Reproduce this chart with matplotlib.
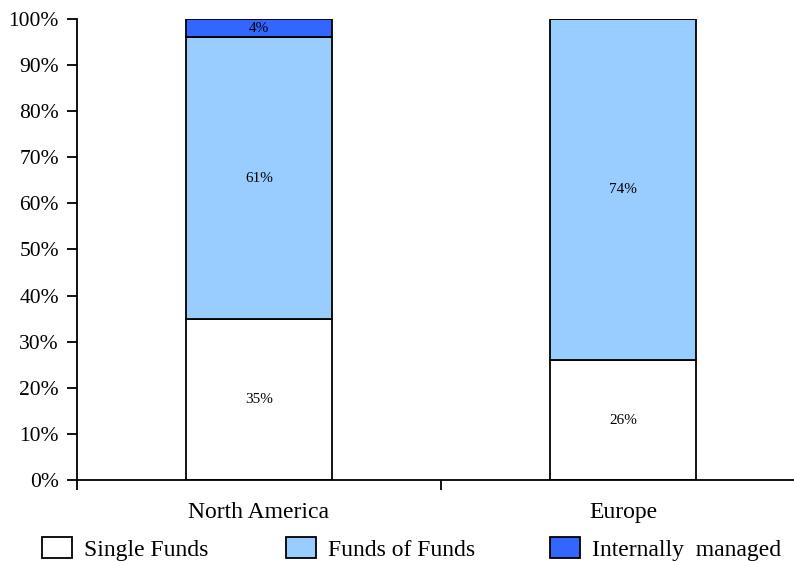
import matplotlib
matplotlib.use('Agg')
from matplotlib import pyplot as plt
from matplotlib.patches import Patch

plt.rcParams['font.family'] = ['Liberation Serif', 'DejaVu Serif']

regions = ['North America', 'Europe']
single_funds = [35, 26]
funds_of_funds = [61, 74]
internally_managed = [4, 0]
series_names = ['Single Funds', 'Funds of Funds', 'Internally  managed']
colors = ['#FFFFFF', '#99CCFF', '#3366FF']

fig = plt.figure(figsize=(7.94, 5.61), dpi=100)
ax = fig.add_axes([77/794, 1 - 480/561, 728/794, 461/561])

x = list(range(len(regions)))
width = 0.4
bottom = [0, 0]
for vals, name, col in zip([single_funds, funds_of_funds, internally_managed], series_names, colors):
    bars = ax.bar(x, vals, width, bottom=bottom, color=col, edgecolor='black', linewidth=1.3, label=name)
    for xi, v, b in zip(x, vals, bottom):
        if v > 0:
            ax.text(xi, b + v / 2, str(v) + '%', ha='center', va='center', fontsize=11)
    bottom = [b + v for b, v in zip(bottom, vals)]

ax.set_xlim(-0.5, 1.5)
ax.set_ylim(0, 100)
ax.set_yticks(range(0, 101, 10))
ax.set_yticklabels([str(v) + '%' for v in range(0, 101, 10)], fontsize=15.5)
ax.set_xticks(x)
ax.set_xticklabels(regions, fontsize=17)
ax.tick_params(axis='x', which='major', length=0, pad=16)
ax.set_xticks([-0.5, 0.5, 1.5], minor=True)
ax.tick_params(axis='x', which='minor', length=7, width=1.3, direction='out')
ax.tick_params(axis='y', length=7, width=1.3, direction='out', pad=6)
ax.spines['top'].set_visible(False)
ax.spines['right'].set_visible(False)
ax.spines['left'].set_linewidth(1.3)
ax.spines['bottom'].set_linewidth(1.3)

# legend entries sit at fixed positions along the bottom
legend_x = [42, 286, 550]
for lx, name, col in zip(legend_x, series_names, colors):
    h = Patch(facecolor=col, edgecolor='black', linewidth=1.3)
    fig.legend([h], [name], loc='center left', bbox_to_anchor=(lx / 794, 1 - 549 / 561),
               frameon=False, fontsize=17, handlelength=1.27, handleheight=1.0,
               handletextpad=0.5, borderpad=0, borderaxespad=0)

fig.savefig('out.png', dpi=100)
